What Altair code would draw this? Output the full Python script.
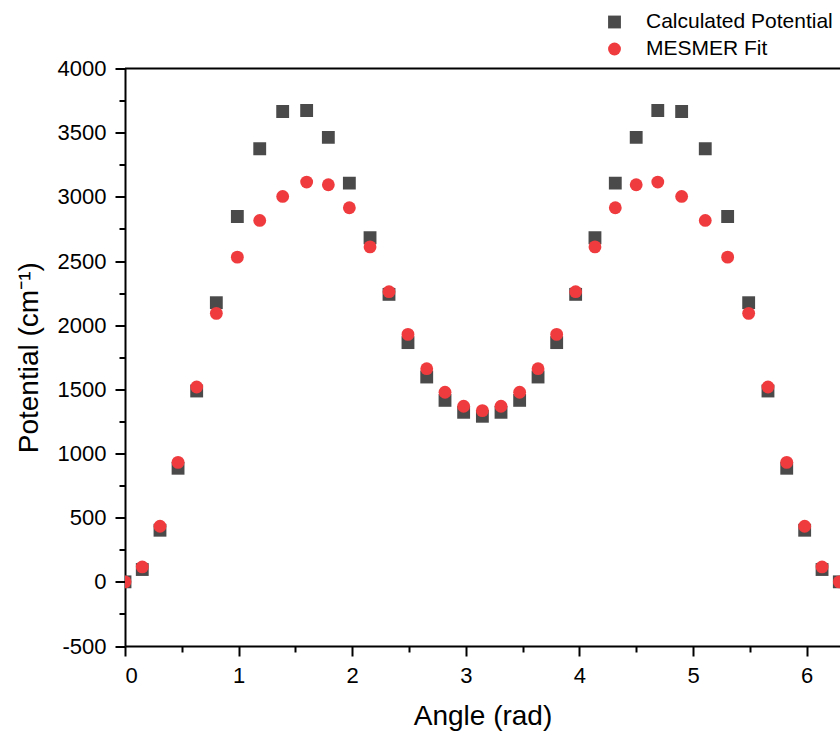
import altair as alt
import pandas as pd

# ---- data ----
angle = [0.000, 0.152, 0.308, 0.467, 0.631, 0.804, 0.989, 1.186, 1.388, 1.599,
         1.790, 1.975, 2.157, 2.324, 2.491, 2.656, 2.817, 2.981, 3.146, 3.310,
         3.474, 3.636, 3.800, 3.967, 4.137, 4.316, 4.500, 4.690, 4.900, 5.108,
         5.305, 5.490, 5.660, 5.825, 5.983, 6.136, 6.288]
calc = [0, 96, 402, 885, 1487, 2175, 2847, 3375, 3665, 3673,
        3463, 3107, 2681, 2240, 1864, 1596, 1414, 1321, 1290, 1321,
        1414, 1596, 1864, 2240, 2681, 3107, 3463, 3673, 3665, 3375,
        2847, 2175, 1487, 885, 402, 96, 0]
fit = [0, 116, 433, 931, 1518, 2092, 2530, 2816, 3003, 3115,
       3094, 2915, 2610, 2261, 1928, 1661, 1477, 1368, 1334, 1368,
       1477, 1661, 1928, 2261, 2610, 2915, 3094, 3115, 3003, 2816,
       2530, 2092, 1518, 931, 433, 116, 0]
series_names = ["Calculated Potential", "MESMER Fit"]
series_colors = ["#4a4a4a", "#ef3b3e"]
series_shapes = ["square", "circle"]

x_major = [0, 1, 2, 3, 4, 5, 6]
x_minor = [0.5, 1.5, 2.5, 3.5, 4.5, 5.5]
y_major = [-500, 0, 500, 1000, 1500, 2000, 2500, 3000, 3500, 4000]
y_minor = [-250, 250, 750, 1250, 1750, 2250, 2750, 3250, 3750]

rows = [{"angle": a, "potential": v, "series": series_names[0]} for a, v in zip(angle, calc)]
rows += [{"angle": a, "potential": v, "series": series_names[1]} for a, v in zip(angle, fit)]
df = pd.DataFrame(rows)

W, H = 715, 577.5
FONT = "Liberation Sans"
HYPHEN_LABEL = "datum.value < 0 ? '-' + abs(datum.value) : '' + datum.value"

xscale = alt.Scale(domain=[0, 6.294], nice=False, zero=False)
yscale = alt.Scale(domain=[-500, 4000], nice=False, zero=False)

legend = alt.Legend(
    title=None, orient="none", legendX=479, legendY=-57, padding=0,
    labelFont=FONT, labelFontSize=21, labelColor="black", labelOffset=21, labelLimit=400,
    symbolSize=165, symbolStrokeWidth=0, rowPadding=5,
)

points = alt.Chart(df).mark_point(filled=True, size=165, opacity=1, clip=True).encode(
    x=alt.X("angle:Q", scale=xscale,
            axis=alt.Axis(values=x_major, title="Angle (rad)", orient="bottom", grid=False,
                          tickSize=10, labelPadding=9, titlePadding=16, labelExpr=HYPHEN_LABEL)),
    y=alt.Y("potential:Q", scale=yscale,
            axis=alt.Axis(values=y_major, title="Potential (cm⁻¹)", orient="left", grid=False,
                          tickSize=10, labelPadding=9, titlePadding=14, labelExpr=HYPHEN_LABEL)),
    color=alt.Color("series:N", scale=alt.Scale(domain=series_names, range=series_colors), legend=legend),
    shape=alt.Shape("series:N", scale=alt.Scale(domain=series_names, range=series_shapes), legend=legend),
)

minor = alt.Chart(df).mark_point(opacity=0).encode(
    x=alt.X("angle:Q", scale=xscale,
            axis=alt.Axis(values=x_minor, labels=False, domain=False, tickSize=6, title=None,
                          orient="bottom", grid=False)),
    y=alt.Y("potential:Q", scale=yscale,
            axis=alt.Axis(values=y_minor, labels=False, domain=False, tickSize=6, title=None,
                          orient="left", grid=False)),
)

frame_top = alt.Chart(pd.DataFrame({"k": [0]})).mark_rule(color="black", strokeWidth=2).encode(
    x=alt.value(0), x2=alt.value(W), y=alt.value(0)
)

chart = alt.layer(minor, points, frame_top).resolve_axis(
    x="independent", y="independent"
).properties(
    width=W, height=H,
    autosize=alt.AutoSizeParams(type="none"),
    padding={"left": 125, "top": 68.5, "right": 0, "bottom": 93.5},
    background="white",
).configure_view(
    strokeWidth=0
).configure_axis(
    domainColor="black", domainWidth=2, tickColor="black", tickWidth=2,
    labelFont=FONT, labelFontSize=22, labelColor="black",
    titleFont=FONT, titleFontSize=28, titleColor="black", titleFontWeight="normal",
)

chart.save("out.html", embed_options={"renderer": "svg", "actions": False})
